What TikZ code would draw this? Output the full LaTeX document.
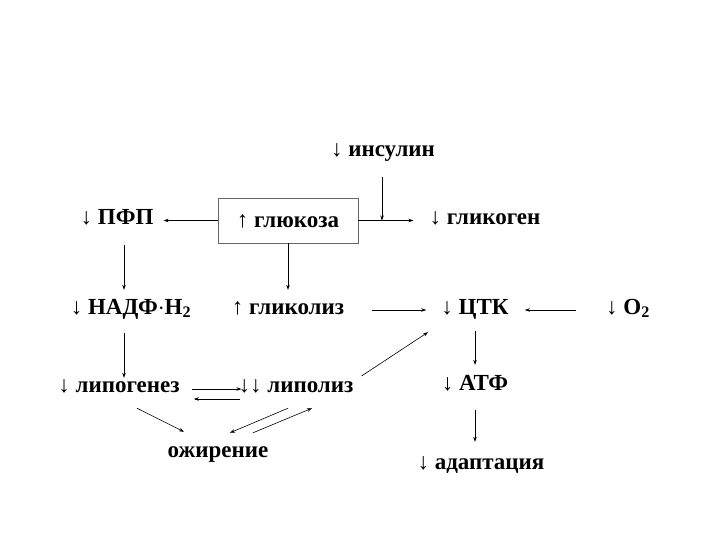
\documentclass[tikz,border=0pt]{standalone}
\usepackage{fontspec}
\setmainfont{Liberation Serif}
\usetikzlibrary{arrows.meta}

\newcommand{\dn}{{\mdseries\char"2193}}
\newcommand{\up}{{\mdseries\char"2191}}

\begin{document}
\begin{tikzpicture}[x=1pt,y=-1pt,
    lbl/.style={font=\fontsize{23}{25}\selectfont\bfseries, inner sep=0pt, text height=14pt, text depth=0pt},
    arr/.style={-{Stealth[length=5pt,width=3.5pt]}, line width=0.6pt}]
    \useasboundingbox (0,0) rectangle (720,540);

    % Labels
    \node[lbl] (ins) at (383,150) {\dn\ инсулин};
    \node[lbl] (pfp) at (117,218) {\dn\ ПФП};
    \node[lbl, draw=black!60, line width=0.6pt, minimum width=140pt, minimum height=45pt] (gluk) at (288,220.5) {\up\ глюкоза};
    \node[lbl] (glik) at (485,218) {\dn\ гликоген};
    \node[lbl] (nadf) at (131,307) {\dn\ НАДФ$\cdot$Н\textsubscript{2}};
    \node[lbl] (glikoliz) at (288,307) {\up\ гликолиз};
    \node[lbl] (ctk) at (475,307) {\dn\ ЦТК};
    \node[lbl] (o2) at (628,307) {\dn\ О\textsubscript{2}};
    \node[lbl] (lipogen) at (119,385) {\dn\ липогенез};
    \node[lbl] (lipoliz) at (296,385) {\dn\dn\ липолиз};
    \node[lbl] (ozhir) at (218,450) {ожирение};
    \node[lbl] (atf) at (475,383) {\dn\ АТФ};
    \node[lbl] (adapt) at (481,462) {\dn\ адаптация};

    % Top row
    \draw[arr, shorten >=10pt] (gluk.west) -- (pfp.east |- gluk.west);
    \draw[arr, shorten >=16pt] (gluk.east) -- (glik.west |- gluk.east);
    \draw[arr, shorten <=20pt] ([xshift=-1pt]ins.south) -- ([xshift=-1pt]ins.south |- gluk.east);

    % Down to second row
    \draw[arr, shorten <=20pt, shorten >=10pt] ([xshift=7pt]pfp.south) -- ([xshift=7pt]pfp.south |- nadf.north);
    \draw[arr, shorten >=10pt] (gluk.south) -- (gluk.south |- glikoliz.north);
    \draw[arr] ([shift={(28,3)}]glikoliz.east) -- ([shift={(-15,3)}]ctk.west);
    \draw[arr] ([shift={(-30,3)}]o2.west) -- ([shift={(16,3)}]ctk.east);

    % Lipids
    \draw[arr, shorten <=19pt] ([xshift=-7pt]nadf.south) -- ([xshift=-7pt]nadf.south |- lipogen.north);
    \draw[arr] ([shift={(12,4)}]lipogen.east) -- ([shift={(3,4)}]lipoliz.west);
    \draw[arr] ([shift={(2,14)}]lipoliz.west) -- ([shift={(14,14)}]lipogen.east);
    \draw[arr] ([shift={(18,16)}]lipogen.south) -- ([shift={(-34,-11)}]ozhir.north);
    \draw[arr] ([shift={(-8,16)}]lipoliz.south) -- ([shift={(12,-10)}]ozhir.north);
    \draw[arr] ([shift={(35,-10)}]ozhir.north) -- ([shift={(16,16)}]lipoliz.south);
    \draw[arr] ([shift={(8,-9)}]lipoliz.east) -- ([shift={(-47,18)}]ctk.south);

    % Energy
    \draw[arr] ([yshift=-17pt]ctk.south) -- ([yshift=11pt]atf.north);
    \draw[arr] ([yshift=-20pt]atf.south) -- ([yshift=13pt]atf.south |- adapt.north);
\end{tikzpicture}
\end{document}
